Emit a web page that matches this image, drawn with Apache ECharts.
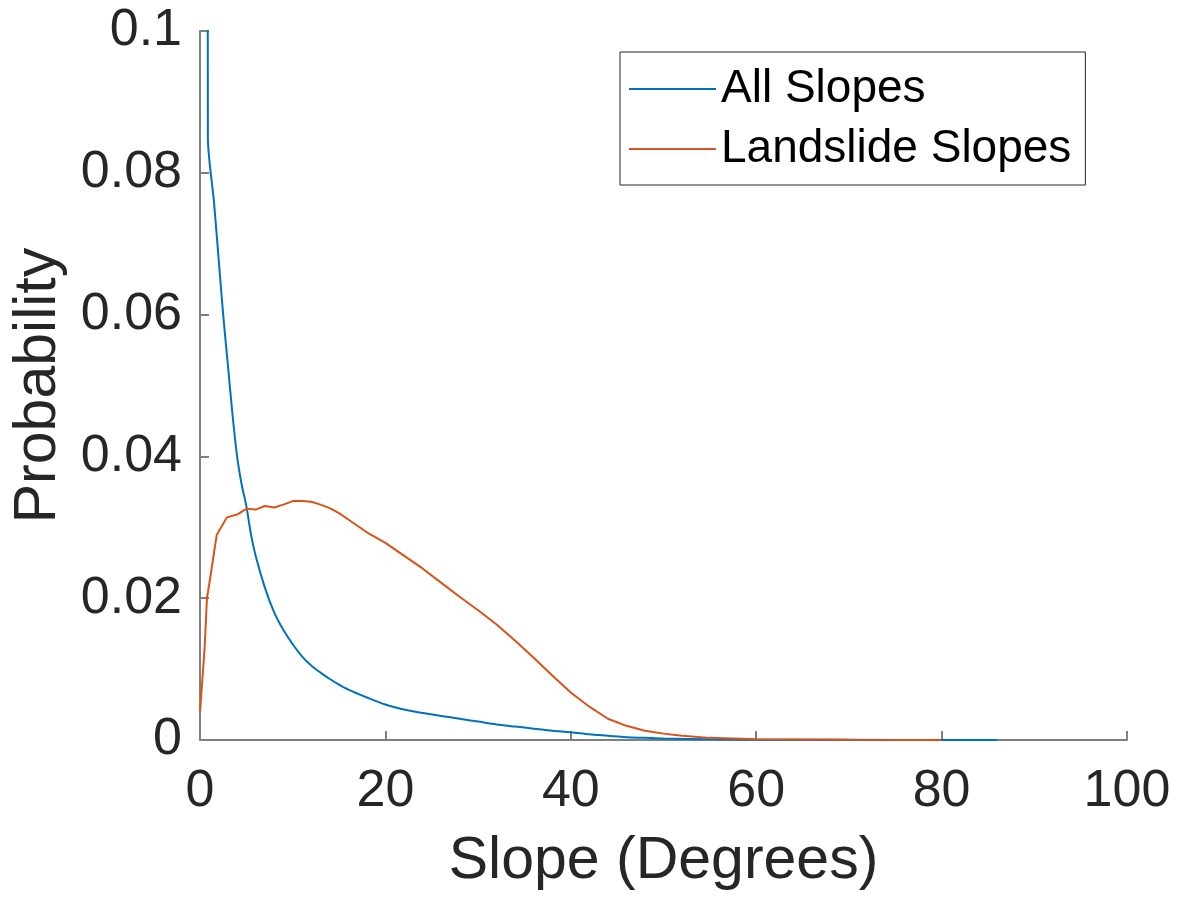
<!DOCTYPE html>
<html>
<head>
<meta charset="utf-8">
<script src="https://cdn.jsdelivr.net/npm/echarts@6/dist/echarts.min.js"></script>
<style>
html,body{margin:0;padding:0;background:#fff;}
#chart{width:1182px;height:901px;}
</style>
</head>
<body>
<div id="chart"></div>
<script>
// Data
const seriesNames = ['All Slopes', 'Landslide Slopes'];
const allSlopesX = [0.8, 0.85, 1.5, 2, 2.5, 3, 3.5, 4, 4.5, 5, 5.5, 6, 7, 8, 9, 10, 11, 12, 13, 14, 15, 16, 18, 20, 22, 24, 26, 28, 30, 32, 34, 36, 38, 40, 42, 44, 46, 48, 50, 55, 60, 70, 80, 86];
const allSlopesY = [0.2, 0.085, 0.076, 0.068, 0.060, 0.053, 0.046, 0.040, 0.036, 0.033, 0.029, 0.026, 0.0215, 0.018, 0.0155, 0.0135, 0.0118, 0.0105, 0.0095, 0.0086, 0.0078, 0.0071, 0.0060, 0.0050, 0.0043, 0.0038, 0.0034, 0.0030, 0.0026, 0.0022, 0.0019, 0.0016, 0.0013, 0.0011, 0.0008, 0.0006, 0.0004, 0.0003, 0.0002, 0.0001, 0.00005, 0.00002, 0.00001, 0];
const landslideX = [0, 0.5, 0.75, 1, 1.8, 2.9, 4, 5, 6, 7, 8, 9, 10, 11, 12, 13, 14, 15, 16, 18, 20, 22, 24, 26, 28, 30, 32, 34, 36, 38, 40, 42, 44, 46, 48, 50, 52, 55, 60, 70, 80];
const landslideY = [0.0039, 0.013, 0.020, 0.022, 0.0289, 0.0314, 0.0318, 0.0326, 0.0325, 0.0330, 0.0328, 0.0332, 0.0337, 0.0337, 0.0336, 0.0332, 0.0327, 0.0320, 0.0311, 0.0293, 0.0278, 0.0260, 0.0242, 0.0222, 0.0202, 0.0183, 0.0163, 0.0140, 0.0116, 0.0091, 0.0067, 0.0047, 0.0030, 0.0020, 0.0013, 0.0009, 0.0006, 0.0003, 0.0001, 0.00002, 0];
const xTicks = [0, 20, 40, 60, 80, 100];
const yTicks = [0, 0.02, 0.04, 0.06, 0.08, 0.1];

const zip = (xs, ys) => xs.map((x, i) => [x, ys[i]]);
const FONT = 'Liberation Sans, Arial, Helvetica, sans-serif';
const AXIS_COLOR = '#808080';
const TEXT_COLOR = '#262626';

const chart = echarts.init(document.getElementById('chart'), null, {renderer: 'canvas'});
chart.setOption({
  animation: false,
  backgroundColor: '#fff',
  grid: {left: 200, right: 55, top: 31, bottom: 161, containLabel: false, outerBoundsMode: 'none'},
  legend: {
    data: seriesNames,
    orient: 'vertical',
    left: 620,
    top: 52,
    padding: [14, 14, 13, 9],
    icon: 'rect',
    itemWidth: 87,
    itemHeight: 2,
    itemGap: 14,
    borderColor: '#262626',
    borderWidth: 1,
    backgroundColor: '#fff',
    textStyle: {fontFamily: FONT, fontSize: 46, color: '#000', lineHeight: 44}
  },
  xAxis: {
    type: 'value',
    min: xTicks[0], max: xTicks[xTicks.length - 1], interval: 20,
    name: 'Slope (Degrees)',
    nameLocation: 'middle',
    nameGap: 92,
    nameTextStyle: {fontFamily: FONT, fontSize: 59, color: TEXT_COLOR},
    axisLine: {show: true, lineStyle: {color: AXIS_COLOR, width: 2}},
    axisTick: {show: true, inside: true, length: 9, lineStyle: {color: AXIS_COLOR, width: 2}},
    axisLabel: {fontFamily: FONT, fontSize: 52, color: TEXT_COLOR, margin: 26},
    splitLine: {show: false}
  },
  yAxis: {
    type: 'value',
    min: yTicks[0], max: yTicks[yTicks.length - 1], interval: 0.02,
    name: 'Probability',
    nameLocation: 'middle',
    nameGap: 132,
    nameTextStyle: {fontFamily: FONT, fontSize: 59, color: TEXT_COLOR},
    axisLine: {show: true, lineStyle: {color: AXIS_COLOR, width: 2}},
    axisTick: {show: true, inside: true, length: 9, lineStyle: {color: AXIS_COLOR, width: 2}},
    axisLabel: {fontFamily: FONT, fontSize: 52, color: TEXT_COLOR, margin: 18,
      formatter: v => String(+v.toFixed(2))},
    splitLine: {show: false}
  },
  series: [
    {
      name: seriesNames[0], type: 'line', data: zip(allSlopesX, allSlopesY),
      symbol: 'none', showSymbol: false, clip: true, smooth: 0.3,
      lineStyle: {color: '#0072BD', width: 2}, itemStyle: {color: '#0072BD'}
    },
    {
      name: seriesNames[1], type: 'line', data: zip(landslideX, landslideY),
      symbol: 'none', showSymbol: false, clip: true,
      lineStyle: {color: '#D95319', width: 2}, itemStyle: {color: '#D95319'}
    }
  ]
});
</script>
</body>
</html>
